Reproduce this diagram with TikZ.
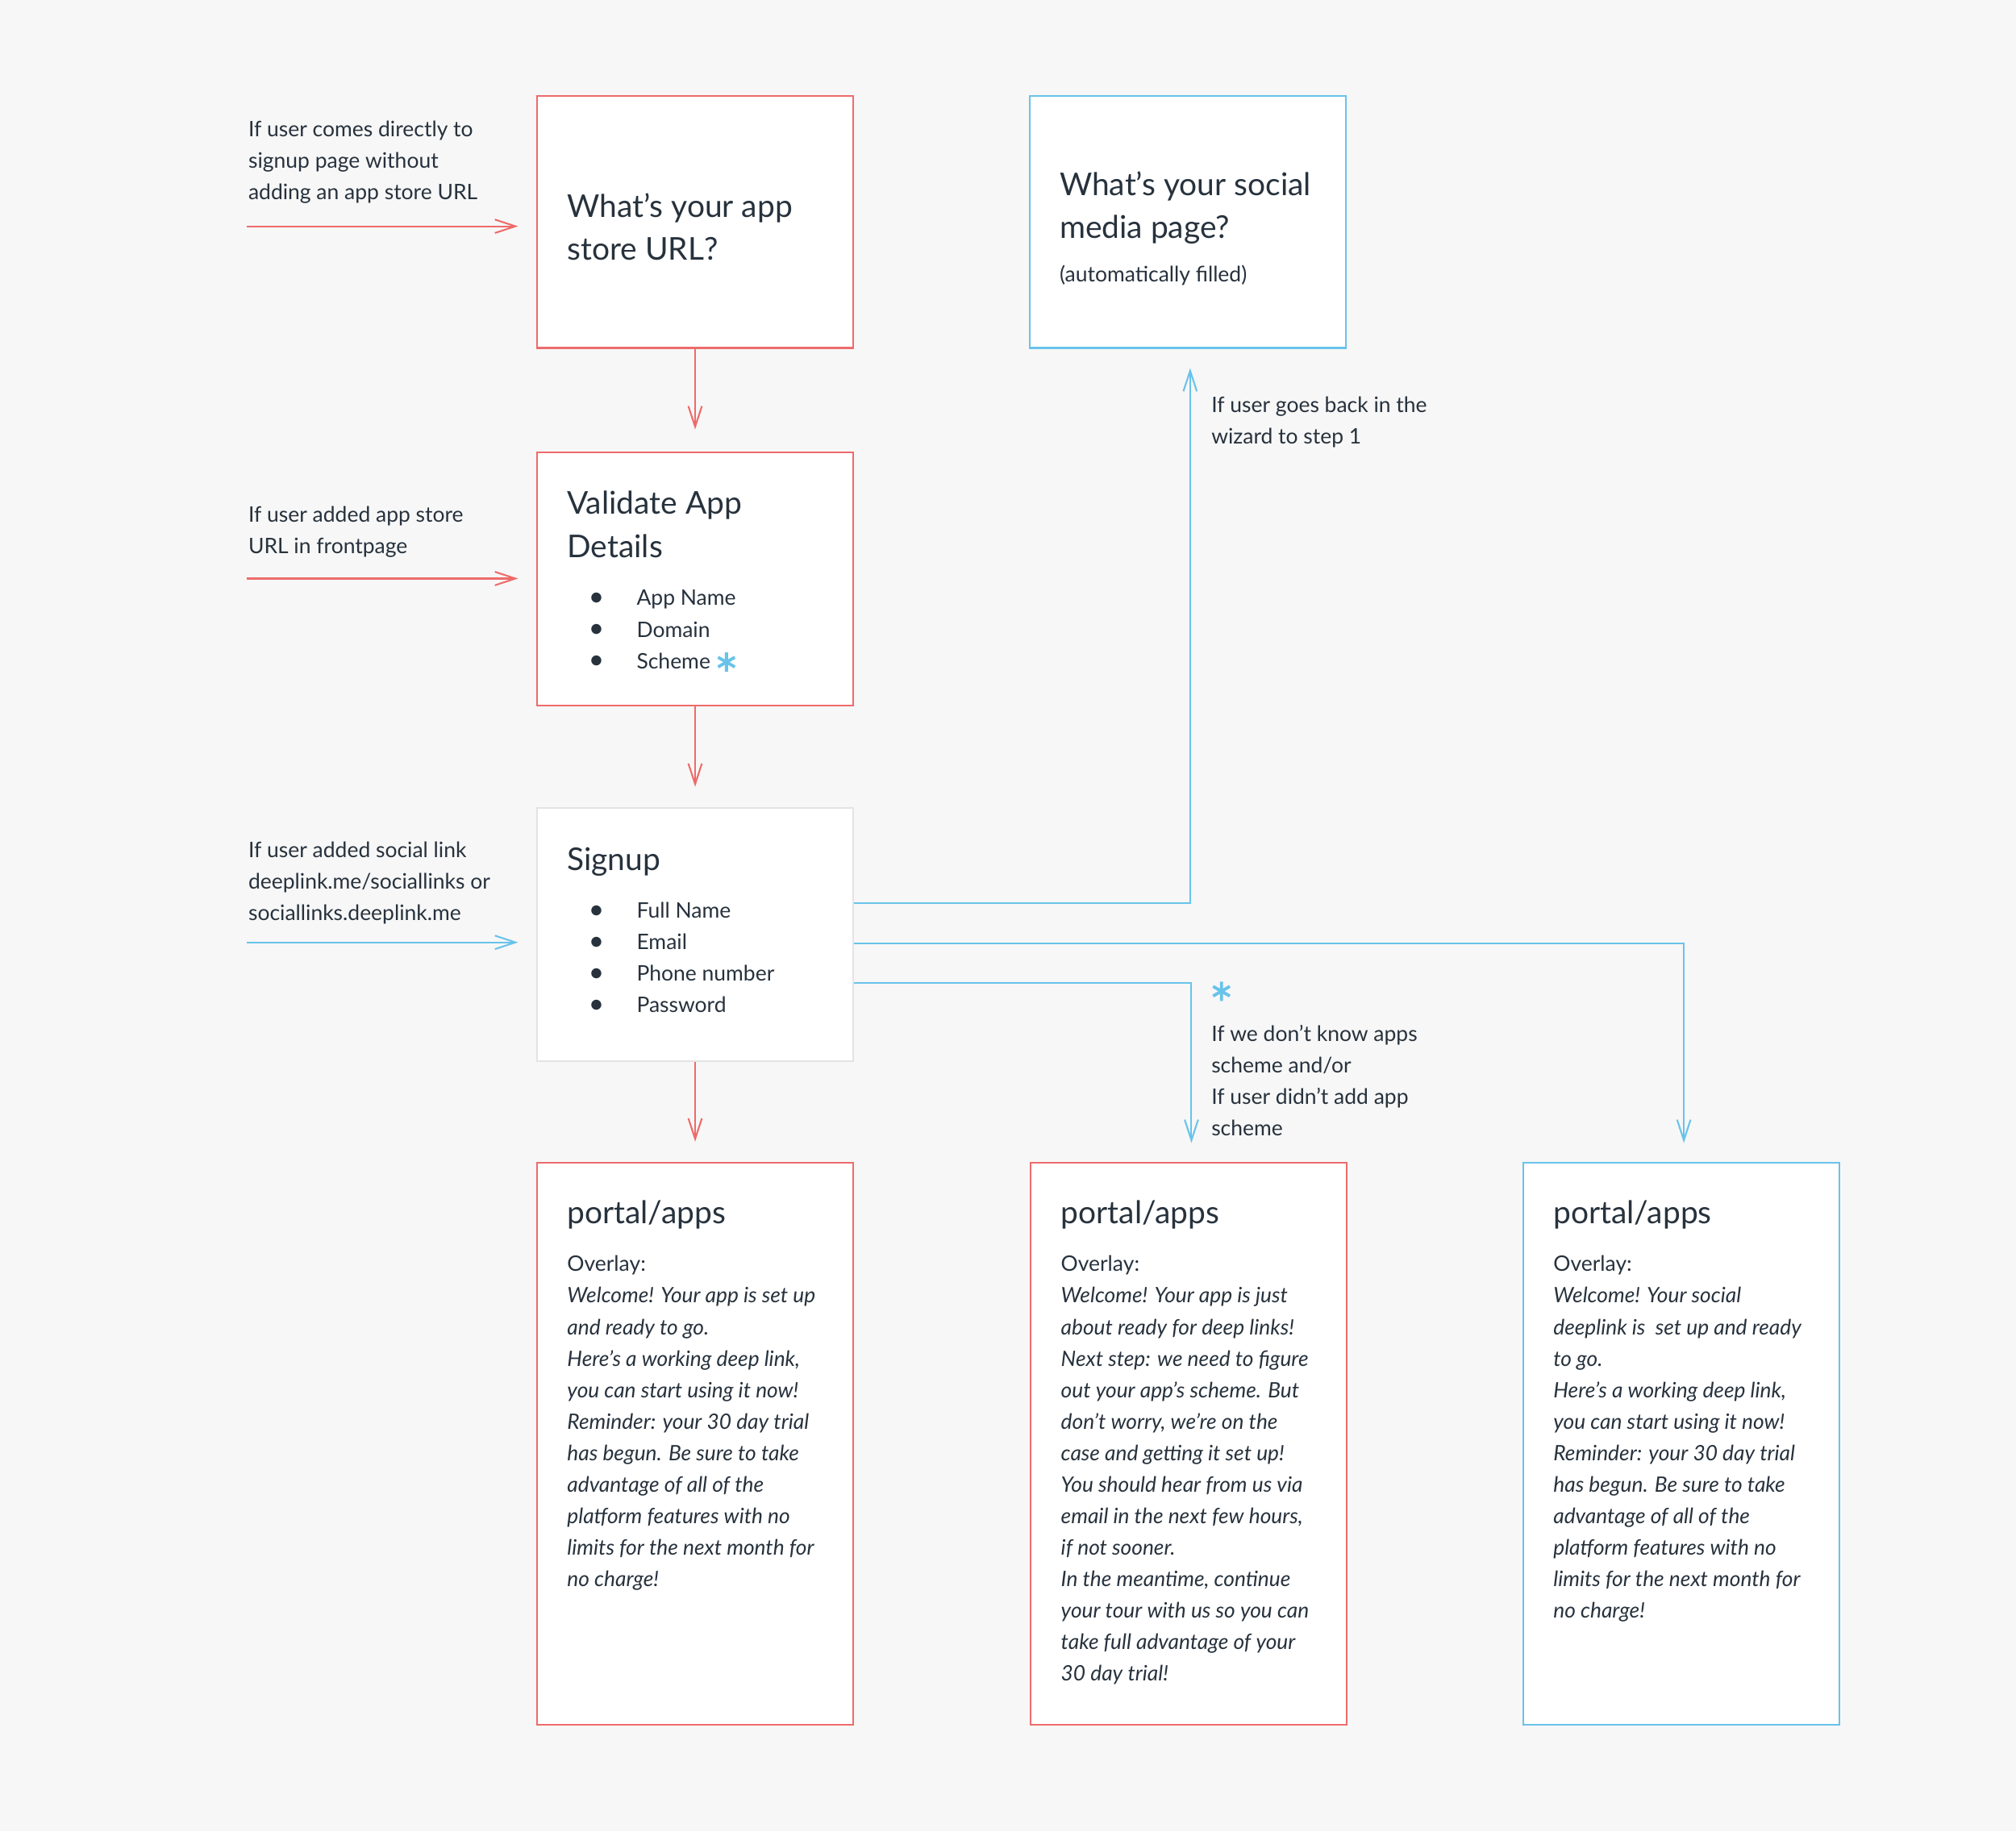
\documentclass[tikz,border=0pt]{standalone}
\usepackage{fontspec}
\setmainfont{Lato}
\usetikzlibrary{arrows.meta}
\definecolor{bg}{HTML}{F7F7F7}
\definecolor{rd}{HTML}{EE6B6B}
\definecolor{bl}{HTML}{68C3EA}
\definecolor{gr}{HTML}{E3E3E3}
\definecolor{tx}{HTML}{27323D}
\newcommand{\itm}[1]{\makebox[37.5pt][l]{\raisebox{-0.5pt}{\fontsize{21}{21}\selectfont\textbullet}}#1}
\tikzset{
  box/.style={draw, fill=white, line width=1.3pt, minimum width=246pt, inner sep=0pt, anchor=north west},
  redbox/.style={box, draw=rd},
  bluebox/.style={box, draw=bl},
  graybox/.style={box, draw=gr},
  lbl/.style={font=\fontsize{16.6}{24.5}\selectfont, text=tx, align=left, inner sep=0pt, anchor=base west, yshift=-1pt},
  ttl/.style={font=\fontsize{24.4}{33.5}\selectfont, text=tx, align=left, inner sep=0pt, anchor=base west, yshift=-1pt},
  body/.style={lbl, font=\fontsize{16.5}{24.5}\selectfont\itshape},
  arr/.style={line width=1.3pt, -{Straight Barb[length=16pt,width=10.5pt]}},
  redarr/.style={arr, draw=rd},
  bluearr/.style={arr, draw=bl},
  astpic/.pic={\draw[bl, line width=2.4pt] (0,-7.5) -- (0,7.5) (-6.5,-3.75) -- (6.5,3.75) (-6.5,3.75) -- (6.5,-3.75);}
}
\begin{document}
\begin{tikzpicture}[x=1pt,y=-1pt]
\fill[bg] (0,0) rectangle (1568,1424.4);
\useasboundingbox (0,0) rectangle (1568,1424.4);

% boxes
\node[redbox, minimum height=196pt] (A) at (417,74) {};
\node[bluebox, minimum height=196pt] (D) at (800,74) {};
\node[redbox, minimum height=197pt] (B) at (417,351) {};
\node[graybox, minimum height=197pt] (C) at (417,628) {};
\node[redbox, minimum height=437pt] (E) at (417,904) {};
\node[redbox, minimum height=437pt] (F) at (801,904) {};
\node[bluebox, minimum height=437pt] (G) at (1184,904) {};

% box texts (anchor = baseline of the last line)
\node[ttl] (Atxt) at (441,201.5) {What’s your app\\store URL?};
\node[ttl] (Dtxt) at (824,184.5) {What’s your social\\media page?};
\node[lbl] (Dsub) at (824,218) {(automatically filled)};
\node[ttl] (Btxt) at (441,432.5) {Validate App\\Details};
\node[lbl] (Blist) at (457.5,519) {\itm{App Name}\\\itm{Domain}\\\itm{Scheme}};
\pic at (565,515) {astpic};
\node[ttl] (Ctxt) at (441,676) {Signup};
\node[lbl] (Clist) at (457.5,786.5) {\itm{Full Name}\\\itm{Email}\\\itm{Phone number}\\\itm{Password}};

\node[ttl] (Et) at (441,951) {portal/apps};
\node[lbl] (Eo) at (441,988) {Overlay:};
\node[body] (Eb) at (441,1233) {Welcome! Your app is set up\\and ready to go.\\Here’s a working deep link,\\you can start using it now!\\Reminder: your 30 day trial\\has begun. Be sure to take\\advantage of all of the\\platform features with no\\limits for the next month for\\no charge!};

\node[ttl] (Ft) at (825,951) {portal/apps};
\node[lbl] (Fo) at (825,988) {Overlay:};
\node[body] (Fb) at (825,1306.5) {Welcome! Your app is just\\about ready for deep links!\\Next step: we need to figure\\out your app’s scheme. But\\don’t worry, we’re on the\\case and getting it set up!\\You should hear from us via\\email in the next few hours,\\if not sooner.\\In the meantime, continue\\your tour with us so you can\\take full advantage of your\\30 day trial!};

\node[ttl] (Gt) at (1208,951) {portal/apps};
\node[lbl] (Go) at (1208,988) {Overlay:};
\node[body] (Gb) at (1208,1257.5) {Welcome! Your social\\deeplink is\ \ set up and ready\\to go.\\Here’s a working deep link,\\you can start using it now!\\Reminder: your 30 day trial\\has begun. Be sure to take\\advantage of all of the\\platform features with no\\limits for the next month for\\no charge!};

% side labels
\node[lbl] (L1) at (193,154) {If user comes directly to\\signup page without\\adding an app store URL};
\node[lbl] (L2) at (193,429.5) {If user added app store\\URL in frontpage};
\node[lbl] (L3) at (193,715) {If user added social link\\deeplink.me/sociallinks or\\sociallinks.deeplink.me};
\node[lbl] (L4) at (942,344.5) {If user goes back in the\\wizard to step 1};
\pic at (950,771) {astpic};
\node[lbl] (L5) at (942,882.5) {If we don’t know apps\\scheme and/or\\If user didn’t add app\\scheme};

% connectors
\coordinate (s1) at (192,176);
\coordinate (s2) at (192,450);
\coordinate (s3) at (192,733);
\draw[redarr, shorten >=14pt] (s1) -- (s1 -| A.west);
\draw[redarr, shorten >=14pt] (s2) -- (s2 -| B.west);
\draw[bluearr, shorten >=14pt] (s3) -- (s3 -| C.west);
\draw[redarr, shorten >=17pt] (A.south) -- (B.north);
\draw[redarr, shorten >=16pt] (B.south) -- (C.north);
\draw[redarr, shorten >=16pt] (C.south) -- (E.north);
\draw[bluearr, shorten >=15pt] ([yshift=24.5pt]C.east) -| ([xshift=2pt]D.south);
\draw[bluearr, shorten >=15pt] ([yshift=-6.5pt]C.east) -| ([xshift=2pt]G.north);
\draw[bluearr, shorten >=15pt] ([yshift=-37.5pt]C.east) -| ([xshift=2pt]F.north);
\end{tikzpicture}
\end{document}
